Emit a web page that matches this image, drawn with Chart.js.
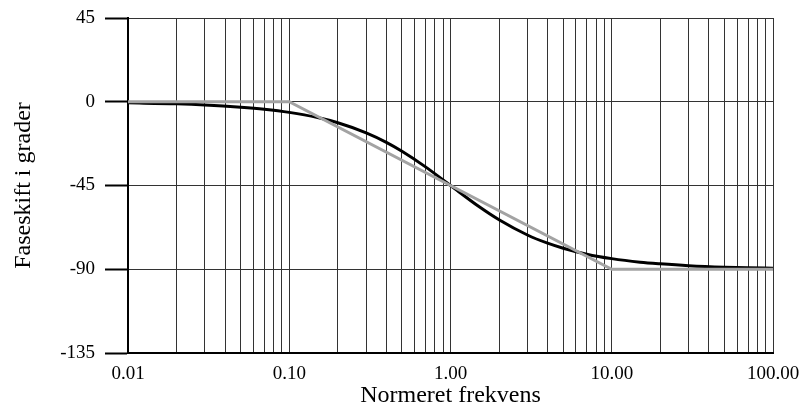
<!DOCTYPE html>
<html>
<head>
<meta charset="utf-8">
<script src="https://cdn.jsdelivr.net/npm/chart.js@4"></script>
<style>
  html, body { margin: 0; padding: 0; background: #fff; }
  #wrap { width: 802px; height: 410px; }
</style>
</head>
<body>
<div id="wrap"><canvas id="chartFase"></canvas></div>
<script>
// Normeret frekvens (x) og faseskift i grader (y)
const freq = [0.01, 0.02, 0.03, 0.05, 0.07, 0.1, 0.15, 0.2, 0.3, 0.4, 0.5, 0.7, 1,
  1.5, 2, 3, 4, 5, 7, 10, 15, 20, 30, 50, 70, 100];
const phase = [-0.6, -1.1, -1.7, -2.9, -4.0, -5.7, -8.5, -11.3, -16.7, -21.8, -26.6, -35.0, -45.0,
  -56.3, -63.4, -71.6, -76.0, -78.7, -81.9, -84.3, -86.2, -87.1, -88.1, -88.9, -89.2, -89.4];

// Asymptotisk tilnærmelse (grå linje)
const asymFreq = [0.01, 0.1, 10, 100];
const asymPhase = [0, 0, -90, -90];

// Akser
const xMajorTicks = [0.01, 0.1, 1, 10, 100];
const xMajorLabels = ['0.01', '0.10', '1.00', '10.00', '100.00'];
const xMinorSteps = [2, 3, 4, 5, 6, 7, 8, 9];
const yTicks = [-135, -90, -45, 0, 45];

function toPoints(xs, ys) {
  return xs.map((x, i) => ({ x: x, y: ys[i] }));
}

// alle gitterlinjer på den logaritmiske akse
function buildXTicks() {
  const ticks = [];
  xMajorTicks.forEach((v, i) => {
    ticks.push({ value: v });
    if (i < xMajorTicks.length - 1) {
      xMinorSteps.forEach(m => ticks.push({ value: v * m }));
    }
  });
  return ticks;
}

const serif = "'Liberation Serif', 'Times New Roman', serif";

new Chart(document.getElementById('chartFase').getContext('2d'), {
  type: 'line',
  data: {
    datasets: [
      {
        data: toPoints(asymFreq, asymPhase),
        borderColor: '#a3a3a3',
        borderWidth: 3,
        pointRadius: 0,
        fill: false
      },
      {
        data: toPoints(freq, phase),
        borderColor: '#000',
        borderWidth: 3,
        pointRadius: 0,
        cubicInterpolationMode: 'monotone',
        fill: false
      }
    ]
  },
  options: {
    responsive: true,
    maintainAspectRatio: false,
    animation: false,
    events: [],
    layout: { padding: { top: 18, right: 29, left: 0, bottom: 0 } },
    plugins: { legend: { display: false }, tooltip: { enabled: false } },
    scales: {
      x: {
        type: 'logarithmic',
        min: 0.01,
        max: 100,
        afterBuildTicks: scale => { scale.ticks = buildXTicks(); },
        afterFit: scale => {
          scale.height = 57;
          scale.paddingLeft = 0;
          scale.paddingRight = 0;
        },
        ticks: {
          autoSkip: false,
          maxRotation: 0,
          padding: 10,
          color: '#000',
          font: { family: serif, size: 19 },
          callback: value => {
            const i = xMajorTicks.findIndex(t => Math.abs(t - value) < t * 1e-6);
            return i >= 0 ? xMajorLabels[i] : '';
          }
        },
        grid: { color: '#333', lineWidth: 1, drawTicks: false },
        border: { color: '#000', width: 2 },
        title: {
          display: true,
          text: 'Normeret frekvens',
          color: '#000',
          font: { family: serif, size: 24 },
          padding: { top: 0, bottom: 0 }
        }
      },
      y: {
        min: -135,
        max: 45,
        afterBuildTicks: scale => { scale.ticks = yTicks.map(v => ({ value: v })); },
        afterFit: scale => {
          scale.width = 128;
          scale.paddingTop = 0;
          scale.paddingBottom = 0;
        },
        ticks: {
          padding: 10,
          color: '#000',
          font: { family: serif, size: 19 }
        },
        grid: { color: '#333', lineWidth: 1, tickLength: 23, tickColor: '#000', tickWidth: 2 },
        border: { color: '#000', width: 2 },
        title: {
          display: true,
          text: 'Faseskift i grader',
          color: '#000',
          font: { family: serif, size: 24 },
          padding: { top: 9, bottom: 0 }
        }
      }
    }
  }
});
</script>
</body>
</html>
